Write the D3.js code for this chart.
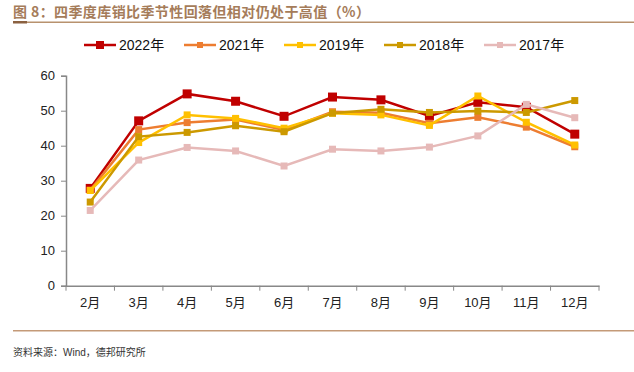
<!DOCTYPE html>
<html>
<head>
<meta charset="utf-8">
<script src="https://cdn.jsdelivr.net/npm/d3@7"></script>
<style>
    body { margin: 0; background: #fff; }
    svg { display: block; font-family: "Liberation Sans", Arial, "Noto Sans CJK SC", sans-serif; }
</style>
</head>
<body>
<div id="chart"></div>
<script>
"use strict";

const months = ['2月', '3月', '4月', '5月', '6月', '7月', '8月', '9月', '10月', '11月', '12月'];
const yTicks = [0, 10, 20, 30, 40, 50, 60];

const v2022 = [27.8, 47.1, 54.8, 52.7, 48.4, 53.9, 53.1, 48.5, 52.4, 51.0, 43.3];
const v2021 = [27.3, 44.6, 46.6, 47.5, 44.5, 49.7, 49.4, 46.4, 48.1, 45.3, 39.7];
const v2019 = [27.2, 40.9, 48.8, 47.8, 45.0, 49.3, 48.8, 45.8, 54.2, 46.7, 40.2];
const v2018 = [23.9, 42.6, 43.8, 45.7, 44.0, 49.3, 50.4, 49.5, 49.9, 49.5, 52.9];
const v2017 = [21.5, 35.9, 39.5, 38.5, 34.2, 39.0, 38.5, 39.6, 42.8, 51.8, 48.0];

const seriesNames = ['2022年', '2021年', '2019年', '2018年', '2017年'];
const seriesValues = [v2022, v2021, v2019, v2018, v2017];
const seriesColors = ['#C00000', '#ED7D31', '#FFC000', '#CC9900', '#E6B9B8'];

const W = 634, H = 372;
const svg = d3.select('#chart').append('svg')
    .attr('width', W)
    .attr('height', H);

// title
svg.append('text')
    .attr('x', 13)
    .attr('y', 17)
    .attr('font-family', '"Noto Sans CJK SC", sans-serif')
    .attr('font-size', 14)
    .attr('letter-spacing', 0.4)
    .attr('font-weight', 'bold')
    .attr('fill', '#A57C5A')
    .text('图 8：四季度库销比季节性回落但相对仍处于高值（%）');
svg.append('rect')
    .attr('x', 13).attr('y', 21.5).attr('width', 621).attr('height', 1.5)
    .attr('fill', '#B8926E');
svg.append('rect')
    .attr('x', 13).attr('y', 21).attr('width', 14).attr('height', 2.5)
    .attr('fill', '#8B6140');

// scales
const x = d3.scaleBand().domain(months).range([66, 599]);
const y = d3.scaleLinear().domain([0, 60]).range([285.7, 75.7]);

// axes
const yAxis = svg.append('g')
    .attr('transform', 'translate(66,0)')
    .call(d3.axisLeft(y).tickValues(yTicks).tickSize(5).tickPadding(6));
const xAxis = svg.append('g')
    .attr('transform', 'translate(0,285.7)')
    .call(d3.axisBottom(x).tickSize(0).tickPadding(12));
[yAxis, xAxis].forEach(a => {
    a.select('.domain').attr('stroke', '#888').attr('stroke-width', 1.5);
    a.selectAll('line').attr('stroke', '#888');
    a.selectAll('text').attr('font-size', 13).attr('fill', '#222')
        .attr('font-family', '"Liberation Sans", Arial, "Noto Sans CJK SC", sans-serif');
});
// x ticks on category boundaries
const bounds = months.map(m => x(m)).concat([x.range()[1]]);
xAxis.selectAll('.bound')
    .data(bounds)
    .join('line')
    .attr('x1', d => d).attr('x2', d => d)
    .attr('y1', 0).attr('y2', 5)
    .attr('stroke', '#888');

// lines
const line = d3.line()
    .x((d, i) => x(months[i]) + x.bandwidth() / 2)
    .y(d => y(d));

seriesValues.forEach((vals, s) => {
    const g = svg.append('g');
    g.append('path')
        .datum(vals)
        .attr('d', line)
        .attr('fill', 'none')
        .attr('stroke', seriesColors[s])
        .attr('stroke-width', 2.5);
    const sz = s === 0 ? 9 : 7;
    g.selectAll('rect')
        .data(vals)
        .join('rect')
        .attr('x', (d, i) => x(months[i]) + x.bandwidth() / 2 - sz / 2)
        .attr('y', d => y(d) - sz / 2)
        .attr('width', sz)
        .attr('height', sz)
        .attr('fill', seriesColors[s]);
});

// legend
const legend = svg.append('g').attr('transform', 'translate(84,45)');
seriesNames.forEach((name, s) => {
    const lg = legend.append('g').attr('transform', `translate(${s * 100},0)`);
    lg.append('line')
        .attr('x1', 0).attr('x2', 32).attr('y1', 0).attr('y2', 0)
        .attr('stroke', seriesColors[s]).attr('stroke-width', 2.5);
    const sz = s === 0 ? 8 : 6;
    lg.append('rect')
        .attr('x', 16 - sz / 2).attr('y', -sz / 2)
        .attr('width', sz).attr('height', sz)
        .attr('fill', seriesColors[s]);
    lg.append('text')
        .attr('x', 35).attr('y', 5)
        .attr('font-size', 14)
        .attr('fill', '#111')
        .text(name);
});

// footer
svg.append('rect')
    .attr('x', 13).attr('y', 330).attr('width', 621).attr('height', 1.5)
    .attr('fill', '#C49A78');
svg.append('text')
    .attr('x', 13)
    .attr('y', 356)
    .attr('font-size', 10)
    .attr('fill', '#333')
    .text('资料来源：Wind，德邦研究所');
</script>
</body>
</html>
